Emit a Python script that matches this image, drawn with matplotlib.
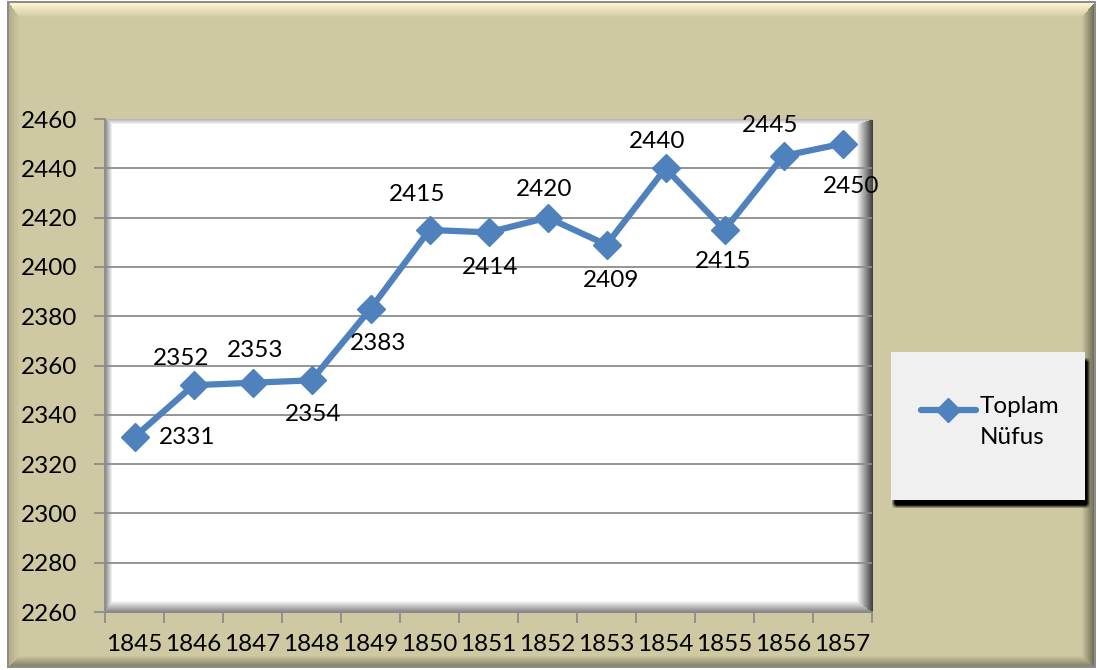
import numpy as np
import matplotlib.pyplot as plt
from matplotlib.lines import Line2D

plt.rcParams['font.family'] = ['Lato', 'DejaVu Sans']

years = ['1845', '1846', '1847', '1848', '1849', '1850', '1851',
         '1852', '1853', '1854', '1855', '1856', '1857']
population = [2331, 2352, 2353, 2354, 2383, 2415, 2414,
              2420, 2409, 2440, 2415, 2445, 2450]
series_name = 'Toplam\nNüfus'
y_ticks = list(range(2260, 2461, 20))

# label offsets in pixels (dx right, dy down)
label_offsets = [(53, 1), (-12, -27), (3, -32), (2, 34), (8, 35), (-12, -35),
                 (2, 35), (-3, -28), (5, 36), (-8, -27), (-1, 32), (-13, -30), (9, 43)]

W, H = 1097, 670
BLUE = '#4f81bd'
FS = 17.5


def rgb(h):
    h = h.lstrip('#')
    return np.array([int(h[i:i + 2], 16) / 255 for i in (0, 2, 4)])


# ---- background: bevelled frame, plot-area bevel, legend box ----
yy, xx = np.mgrid[0:H, 0:W].astype(float)
bg = np.ones((H, W, 3))


def bevel_rect(img, l, t, r, b, fill, edges, widths):
    # edges/widths ordered left, top, right, bottom
    inside = (xx >= l) & (xx <= r) & (yy >= t) & (yy <= b)
    d = np.stack([(xx - l) / widths[0], (yy - t) / widths[1],
                  (r - xx) / widths[2], (b - yy) / widths[3]])
    k = d.argmin(axis=0)
    m = np.clip(d.min(axis=0), 0, 1)
    col = np.zeros((H, W, 3))
    for i, e in enumerate(edges):
        col[k == i] = e
    out = col * (1 - m[..., None]) + np.array(fill) * m[..., None]
    img[inside] = out[inside]


L, T, R, B = 8, 2, 1094, 666
bg[(xx >= L - 1) & (xx <= R + 1) & (yy >= T - 1) & (yy <= B + 1)] = rgb('#8c8c8c')
bevel_rect(bg, L + 1, T + 1, R - 1, B - 1, rgb('#cfc9a3'),
           [rgb('#b3ad88'), rgb('#fbf6cf'), rgb('#757159'), rgb('#8a8569')],
           [10, 14, 12, 10])

pl, pt, pr, pb = 105, 119, 872, 612
bevel_rect(bg, pl, pt, pr, pb, np.ones(3),
           [np.full(3, 0.55), np.full(3, 0.72), np.full(3, 0.25), np.full(3, 0.5)],
           [7, 5, 16, 12])


def box_blur(a, r):
    for ax_ in (0, 1):
        c = np.cumsum(np.pad(a, [(r + 1, r) if i == ax_ else (0, 0) for i in range(2)],
                             mode='edge'), axis=ax_)
        a = (np.take(c, np.arange(2 * r + 1, c.shape[ax_]), axis=ax_)
             - np.take(c, np.arange(0, c.shape[ax_] - 2 * r - 1), axis=ax_)) / (2 * r + 1)
    return a


# legend frame with a dark drop shadow
lx0, ly0, lx1, ly1 = 891, 352, 1084, 499
sh = ((xx >= lx0 + 3) & (xx <= lx1 + 3) & (yy >= ly0 + 8) & (yy <= ly1 + 6)).astype(float)
sh = box_blur(sh, 2)
bg *= (1 - np.clip(sh * 1.4, 0, 1)[..., None])
bg[(xx >= lx0) & (xx <= lx1) & (yy >= ly0) & (yy <= ly1)] = rgb('#f0f0f0')

fig = plt.figure(figsize=(W / 100, H / 100), dpi=100)
bax = fig.add_axes([0, 0, 1, 1], zorder=-1)
bax.imshow(bg, aspect='auto', interpolation='nearest')
bax.axis('off')

# ---- plot area ----
ax = fig.add_axes([pl / W, 1 - pb / H, (pr - pl) / W, (pb - pt) / H])
ax.patch.set_alpha(0)

x = np.arange(len(years))
ax.set_xlim(-0.5, len(years) - 0.5)
ax.set_ylim(y_ticks[0], y_ticks[-1])

for v in y_ticks[1:-1]:
    ax.axhline(v, color='#8c8c8c', lw=1.3, zorder=1)

ax.plot(x, population, color=BLUE, lw=4.5, marker='D', markersize=14,
        markerfacecolor=BLUE, markeredgecolor=BLUE, zorder=3, clip_on=False)

for xi, v, (dx, dy) in zip(x, population, label_offsets):
    ax.annotate(str(v), (xi, v), xytext=(dx * 0.72, -dy * 0.72),
                textcoords='offset points', ha='center', va='center',
                fontsize=FS, color='black', zorder=4, annotation_clip=False)

for s in ['top', 'right']:
    ax.spines[s].set_visible(False)
for s in ['left', 'bottom']:
    ax.spines[s].set_color('#8c8c8c')
    ax.spines[s].set_linewidth(1.3)
    ax.spines[s].set_zorder(2)

ax.set_yticks(y_ticks)
ax.set_yticklabels([str(v) for v in y_ticks])
ax.set_xticks(x)
ax.set_xticklabels(years)
ax.set_xticks(np.arange(len(years) + 1) - 0.5, minor=True)
ax.tick_params(axis='y', which='major', length=8, width=1.3, color='#8c8c8c',
               pad=12, labelsize=FS)
ax.tick_params(axis='x', which='major', length=0, pad=16, labelsize=FS)
ax.tick_params(axis='x', which='minor', length=8, width=1.3, color='#8c8c8c')

# ---- legend entry ----
fig.lines.append(Line2D([921 / W, 976 / W], [1 - 410 / H, 1 - 410 / H], color=BLUE, lw=4.5,
                        solid_capstyle='round', transform=fig.transFigure, figure=fig))
fig.lines.append(Line2D([948 / W], [1 - 410 / H], color=BLUE, marker='D', markersize=12,
                        transform=fig.transFigure, figure=fig))
fig.text(980 / W, 1 - 396 / H, series_name, ha='left', va='top', fontsize=FS,
         linespacing=1.6)

fig.savefig('out.png', dpi=100)
